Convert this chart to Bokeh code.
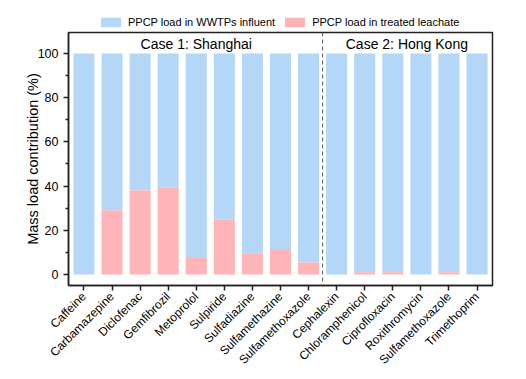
import math
from bokeh.plotting import figure
from bokeh.layouts import column
from bokeh.models import (ColumnDataSource, FixedTicker, Legend, LegendItem, Label, Span, Range1d)
from bokeh.embed import file_html
from bokeh.resources import INLINE

compounds = ["Caffeine", "Carbamazepine", "Diclofenac", "Gemfibrozil", "Metoprolol",
             "Sulpiride", "Sulfadiazine", "Sulfamethazine", "Sulfamethoxazole",
             "Cephalexin", "Chloramphenicol", "Ciprofloxacin", "Roxithromycin",
             "Sulfamethoxazole", "Trimethoprim"]
leachate = [0.0, 29.0, 38.0, 39.2, 7.4, 24.7, 9.6, 11.5, 5.4,
            0.0, 1.0, 1.0, 0.0, 1.0, 0.0]
total = [100.0] * len(compounds)
case_labels = ["Case 1: Shanghai", "Case 2: Hong Kong"]
legend_labels = ["PPCP load in WWTPs influent", "PPCP load in treated leachate"]

FONT = "Liberation Sans"
BLUE = "#B4D7F8"
PINK = "#FFB4B8"
AX = "#222222"

xs = list(range(len(compounds)))
src = ColumnDataSource(dict(x=xs, lea=leachate, tot=total))

# ---- legend strip on top ----
lg = figure(width=510, height=30, output_backend="svg", toolbar_location=None,
            x_range=Range1d(0, 1), y_range=Range1d(0, 1),
            min_border_left=68, min_border_right=18, min_border_top=0, min_border_bottom=0)
lg.axis.visible = False
lg.grid.visible = False
lg.outline_line_color = None
# legend-only renderers, placed outside the visible range
lg_blue = lg.vbar(x=[-5], bottom=[-5], top=[-4], width=0.5, fill_color=BLUE, line_color=None)
lg_pink = lg.vbar(x=[-5], bottom=[-5], top=[-4], width=0.5, fill_color=PINK, line_color=None)
legend = Legend(items=[LegendItem(label=legend_labels[0], renderers=[lg_blue]),
                       LegendItem(label=legend_labels[1], renderers=[lg_pink])],
                orientation="horizontal", location=(30, 2),
                glyph_width=25, glyph_height=12, label_height=12,
                label_standoff=5, spacing=7, padding=0, margin=0,
                border_line_color=None, background_fill_alpha=0,
                label_text_font=FONT, label_text_font_size="11px",
                label_text_color="black")
lg.add_layout(legend, "center")

# ---- main chart ----
p = figure(width=510, height=345, output_backend="svg", toolbar_location=None,
           x_range=Range1d(-0.55, 14.55), y_range=Range1d(-5, 109.5),
           min_border_left=68, min_border_right=18, min_border_top=2, min_border_bottom=90)

p.vbar(x="x", bottom="lea", top="tot", width=0.75, source=src,
       fill_color=BLUE, line_color=None)
p.vbar(x="x", bottom=0, top="lea", width=0.75, source=src,
       fill_color=PINK, line_color=None)

p.grid.visible = False
p.outline_line_color = AX
p.outline_line_width = 1.5
p.background_fill_color = "white"
p.border_fill_color = "white"

# x axis
xa = p.xaxis[0]
xa.ticker = FixedTicker(ticks=xs)
xa.major_label_overrides = {i: c for i, c in enumerate(compounds)}
xa.major_label_orientation = math.pi / 4
xa.major_label_text_font = FONT
xa.major_label_text_font_size = "12px"
xa.major_label_text_color = "black"
xa.major_label_standoff = 4
xa.axis_line_color = AX
xa.axis_line_width = 1.5
xa.major_tick_line_color = AX
xa.major_tick_line_width = 1.5
xa.major_tick_out = 5
xa.major_tick_in = 0
xa.minor_tick_line_color = None

# y axis
ya = p.yaxis[0]
ya.ticker = FixedTicker(ticks=[0, 20, 40, 60, 80, 100], minor_ticks=[10, 30, 50, 70, 90])
ya.axis_label = "Mass load contribution (%)"
ya.axis_label_text_font = FONT
ya.axis_label_text_font_size = "14.5px"
ya.axis_label_text_font_style = "normal"
ya.axis_label_text_color = "black"
ya.axis_label_standoff = -6
ya.major_label_text_font = FONT
ya.major_label_text_font_size = "12.5px"
ya.major_label_text_color = "black"
ya.axis_line_color = AX
ya.axis_line_width = 1.5
ya.major_tick_line_color = AX
ya.major_tick_line_width = 1.5
ya.major_tick_out = 5
ya.major_tick_in = 0
ya.minor_tick_line_color = AX
ya.minor_tick_line_width = 1.5
ya.minor_tick_out = 3
ya.minor_tick_in = 0

# divider between cases
p.add_layout(Span(location=8.5, dimension="height", line_color="#555555",
                  line_width=1, line_dash="4 3"))

p.add_layout(Label(x=4, y=104.5, text=case_labels[0], text_align="center",
                   text_baseline="middle", text_font=FONT, text_font_size="14px",
                   text_color="black"))
p.add_layout(Label(x=11.5, y=104.5, text=case_labels[1], text_align="center",
                   text_baseline="middle", text_font=FONT, text_font_size="14px",
                   text_color="black"))

layout = column(lg, p, spacing=0)
open("out.html", "w").write(file_html(layout, INLINE))
